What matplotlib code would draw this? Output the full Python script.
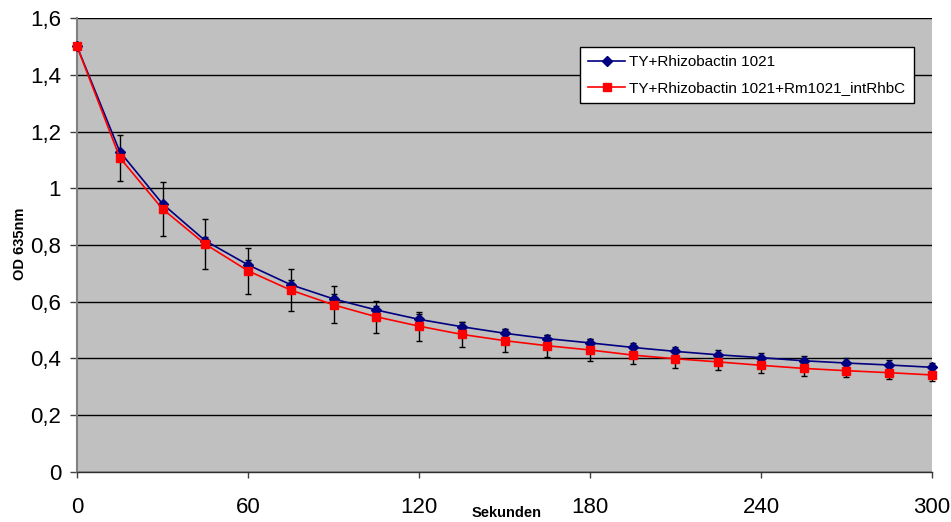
import matplotlib.pyplot as plt

# data
sekunden = [0, 15, 30, 45, 60, 75, 90, 105, 120, 135, 150, 165, 180, 195, 210, 225, 240, 255, 270, 285, 300]

od_rhizo = [1.50, 1.129, 0.945, 0.815, 0.73, 0.66, 0.61, 0.571, 0.538, 0.512, 0.489, 0.47, 0.455,
            0.439, 0.425, 0.413, 0.403, 0.392, 0.384, 0.377, 0.369]
err_rhizo = [0.0, 0.006, 0.008, 0.014, 0.018, 0.017, 0.018, 0.014, 0.018, 0.018, 0.015, 0.014, 0.013,
             0.014, 0.016, 0.016, 0.016, 0.016, 0.016, 0.018, 0.016]

od_intrhbc = [1.50, 1.108, 0.927, 0.803, 0.709, 0.641, 0.589, 0.547, 0.514, 0.485, 0.463, 0.445, 0.43,
              0.412, 0.399, 0.388, 0.376, 0.365, 0.357, 0.35, 0.342]
err_intrhbc = [0.0, 0.081, 0.094, 0.087, 0.082, 0.073, 0.065, 0.056, 0.051, 0.045, 0.04, 0.039, 0.038,
               0.031, 0.032, 0.029, 0.027, 0.025, 0.023, 0.023, 0.022]

labels = ["TY+Rhizobactin 1021", "TY+Rhizobactin 1021+Rm1021_intRhbC"]
y_ticks = [0, 0.2, 0.4, 0.6, 0.8, 1.0, 1.2, 1.4, 1.6]
y_ticklabels = ["0", "0,2", "0,4", "0,6", "0,8", "1", "1,2", "1,4", "1,6"]
x_ticks = [0, 60, 120, 180, 240, 300]

plt.rcParams['font.family'] = ['Liberation Sans', 'DejaVu Sans']

fig = plt.figure(figsize=(9.51, 5.22), dpi=100)
ax = fig.add_axes([0.081, 0.0958, 0.899, 0.8697])
ax.set_facecolor('#C0C0C0')

ax.set_xlim(0, 300)
ax.set_ylim(0, 1.6)
ax.set_yticks(y_ticks)
ax.set_yticklabels(y_ticklabels)
ax.set_xticks(x_ticks)
ax.tick_params(axis='y', labelsize=16, length=5, color='#404040', width=1, pad=6.5)
ax.tick_params(axis='x', labelsize=16, length=4.5, color='#404040', width=1, pad=13.5)
ax.grid(axis='y', color='black', linewidth=1)
ax.set_axisbelow(True)

for s in ['top', 'right']:
    ax.spines[s].set_visible(False)
ax.spines['left'].set_color('#808080')
ax.spines['left'].set_linewidth(1.5)
ax.spines['bottom'].set_color('#303030')
ax.spines['bottom'].set_linewidth(1)

# error bars
ax.errorbar(sekunden, od_rhizo, yerr=err_rhizo, fmt='none', ecolor='black',
            elinewidth=1, capsize=2.5, capthick=1, clip_on=False, zorder=3)
ax.errorbar(sekunden, od_intrhbc, yerr=err_intrhbc, fmt='none', ecolor='black',
            elinewidth=1, capsize=2.5, capthick=1, clip_on=False, zorder=3)

ax.plot(sekunden, od_rhizo, color='#000080', marker='D', markersize=5, linewidth=1.2,
        label=labels[0], clip_on=False, zorder=4)
ax.plot(sekunden, od_intrhbc, color='#FF0000', marker='s', markersize=5.5, linewidth=1.2,
        label=labels[1], clip_on=False, zorder=4)

ax.set_ylabel("OD 635nm", fontsize=10.5, fontweight='bold')
ax.yaxis.set_label_coords(-0.059, 0.502)
ax.set_xlabel("Sekunden", fontsize=10.5, fontweight='bold')
ax.xaxis.set_label_coords(0.503, -0.075)

leg = ax.legend(loc='upper right', bbox_to_anchor=(0.979, 0.936), borderaxespad=0,
                fontsize=11, frameon=True, fancybox=False, edgecolor='black', framealpha=1,
                borderpad=0.55, labelspacing=0.76, handlelength=2.4, handletextpad=0.3)
leg.get_frame().set_linewidth(1)

plt.savefig("out.png", dpi=100)
